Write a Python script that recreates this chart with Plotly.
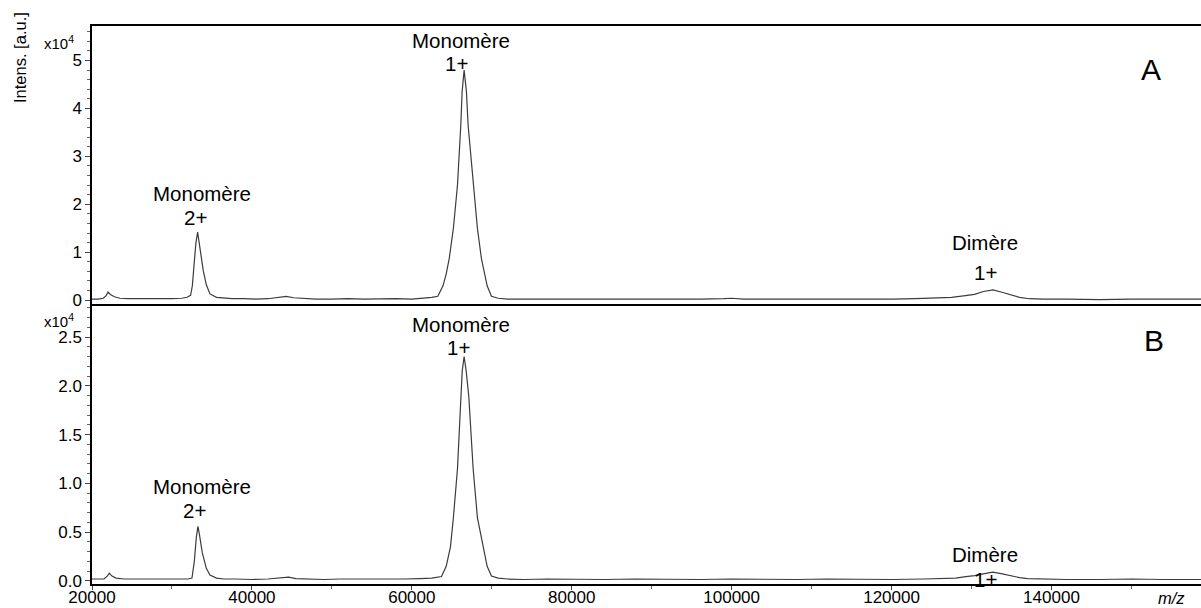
import plotly.graph_objects as go

# ---- Data (intensity in units of 1e4 a.u.) ----
mz_A = [20000, 20800, 21400, 21800, 22000, 22300, 22800, 23500, 24500, 25500, 27000, 28500,
        30000, 31200, 31900, 32330, 32550, 32750, 33000, 33210, 33450, 33790, 33920, 34300,
        34750, 35580, 36500, 37500, 39000, 40500, 42000, 43300, 44300, 45200, 46500, 48000,
        50000, 52000, 54000, 56000, 58000, 60000, 61500, 62500, 63250, 63900, 64300, 64670,
        65200, 65710, 66125, 66290, 66540, 66830, 67040, 67670, 68200, 68710, 69420, 69960,
        70800, 72000, 74000, 77000, 80000, 84000, 88000, 92000, 96000, 99000, 100000, 101500,
        104000, 108000, 112000, 116000, 120000, 123000, 125580, 127500, 129000, 130375, 131500,
        132670, 133700, 134750, 136000, 137250, 139000, 142000, 146000, 150000, 154000, 158700]
int_A = [0.02, 0.02, 0.04, 0.10, 0.17, 0.12, 0.07, 0.04, 0.03, 0.03, 0.02, 0.03,
         0.03, 0.04, 0.06, 0.10, 0.30, 0.71, 1.20, 1.42, 1.15, 0.71, 0.61, 0.32,
         0.13, 0.06, 0.04, 0.03, 0.03, 0.02, 0.03, 0.05, 0.08, 0.05, 0.03, 0.02,
         0.02, 0.03, 0.02, 0.03, 0.03, 0.02, 0.04, 0.06, 0.08, 0.30, 0.55, 0.86,
         1.50, 2.40, 3.65, 4.35, 4.80, 4.35, 3.65, 2.40, 1.50, 0.86, 0.30, 0.08,
         0.04, 0.02, 0.02, 0.02, 0.01, 0.02, 0.02, 0.01, 0.02, 0.03, 0.04, 0.02,
         0.02, 0.01, 0.02, 0.02, 0.02, 0.03, 0.05, 0.06, 0.09, 0.12, 0.18,
         0.215, 0.17, 0.12, 0.06, 0.03, 0.02, 0.02, 0.01, 0.02, 0.02, 0.02]

mz_B = [20000, 20800, 21500, 21900, 22170, 22500, 23000, 24000, 25500, 27000, 28500, 30000,
        31200, 32000, 32500, 32800, 33050, 33250, 33450, 33790, 34300, 34750, 35580, 36500,
        38000, 40000, 42000, 43500, 44580, 45500, 47000, 49000, 51000, 53000, 55000, 57000,
        59000, 61000, 62500, 63710, 64300, 64830, 65200, 65710, 66080, 66300, 66540, 66800,
        67125, 67670, 68200, 68920, 69420, 69960, 70800, 72000, 74000, 77000, 80000, 84000,
        88000, 92000, 96000, 100000, 104000, 108000, 112000, 116000, 120000, 124000, 126500,
        128000, 129300, 130400, 131600, 132670, 133700, 134750, 136000, 137000, 139000, 142000,
        146000, 150000, 154000, 158700]
int_B = [0.02, 0.02, 0.02, 0.05, 0.08, 0.05, 0.03, 0.02, 0.02, 0.015, 0.02, 0.02,
         0.02, 0.02, 0.03, 0.20, 0.45, 0.56, 0.47, 0.29, 0.13, 0.06, 0.03, 0.02,
         0.02, 0.015, 0.02, 0.03, 0.04, 0.025, 0.02, 0.015, 0.02, 0.02, 0.015, 0.02,
         0.02, 0.025, 0.03, 0.045, 0.15, 0.35, 0.65, 1.15, 1.89, 2.15, 2.30, 2.15,
         1.89, 1.15, 0.65, 0.35, 0.15, 0.05, 0.03, 0.02, 0.015, 0.02, 0.015, 0.015,
         0.02, 0.015, 0.015, 0.02, 0.015, 0.015, 0.02, 0.015, 0.015, 0.02, 0.025,
         0.03, 0.045, 0.055, 0.075, 0.09, 0.075, 0.055, 0.035, 0.025, 0.02, 0.015,
         0.015, 0.02, 0.015, 0.015]

yticks_A = [0, 1, 2, 3, 4, 5]
yticks_B = [0.0, 0.5, 1.0, 1.5, 2.0, 2.5]
xticks = [20000, 40000, 60000, 80000, 100000, 120000, 140000]

# (line 1, line 2, apex m/z, apex intensity)
peak_labels_A = [("Monomère", "2+", 33210, 1.42), ("Monomère", "1+", 66540, 4.80), ("Dimère", "1+", 132670, 0.215)]
peak_labels_B = [("Monomère", "2+", 33250, 0.56), ("Monomère", "1+", 66540, 2.30), ("Dimère", "1+", 132670, 0.09)]

FONT = "Liberation Sans, Arial, sans-serif"
LINE = "#3c3c3c"

fig = go.Figure()
fig.add_trace(go.Scatter(x=mz_A, y=int_A, mode="lines", line=dict(color=LINE, width=1.2),
                         xaxis="x", yaxis="y", showlegend=False, hoverinfo="skip"))
fig.add_trace(go.Scatter(x=mz_B, y=int_B, mode="lines", line=dict(color=LINE, width=1.2),
                         xaxis="x2", yaxis="y2", showlegend=False, hoverinfo="skip"))

W, H = 1201, 608
L, R, T, B = 92, 0, 26, 24
xr = [20000, 158700]
common_y = dict(showline=True, linecolor="black", linewidth=1.5, ticks="outside", ticklen=5,
                tickcolor="#444", showgrid=False, zeroline=False, automargin=False,
                tickfont=dict(family=FONT, size=17, color="black"))
fig.update_layout(
    template="none",
    width=W, height=H,
    margin=dict(l=L, r=R, t=T, b=B, pad=0, autoexpand=False),
    plot_bgcolor="white", paper_bgcolor="white",
    xaxis=dict(domain=[0, 1], range=xr, anchor="y", matches="x2", showticklabels=False,
               showline=True, mirror=True, linecolor="black", linewidth=1.5, ticks="",
               showgrid=False, zeroline=False, automargin=False),
    yaxis=dict(domain=[0.5018, 1], range=[-0.08, 5.72], anchor="x", tickvals=yticks_A,
               ticktext=[str(v) for v in yticks_A],
               minor=dict(ticks="outside", ticklen=3, dtick=0.2, tick0=0, tickcolor="#666"), **common_y),
    xaxis2=dict(domain=[0, 1], range=xr, anchor="y2", showline=True, linecolor="black",
                linewidth=1.5, ticks="outside", ticklen=4, tickcolor="#444", tickvals=xticks,
                ticktext=[str(v) for v in xticks], showgrid=False, zeroline=False, automargin=False,
                ticklabelstandoff=-7,
                minor=dict(ticks="outside", ticklen=3, dtick=10000, tick0=20000, tickcolor="#666"),
                tickfont=dict(family=FONT, size=17, color="black")),
    yaxis2=dict(domain=[0, 0.5], range=[-0.031, 2.828], anchor="x2", tickvals=yticks_B,
                ticktext=["%.1f" % v for v in yticks_B],
                minor=dict(ticks="outside", ticklen=3, dtick=0.1, tick0=0, tickcolor="#666"), **common_y),
)

ann = []
def txt(text, x, y, xref, yref, size=20.5, **kw):
    d = dict(text=text, x=x, y=y, xref=xref, yref=yref, showarrow=False,
             xanchor="center", yanchor="middle",
             font=dict(family=FONT, size=size, color="black"))
    d.update(kw)
    ann.append(d)

# label offsets from the apex in pixels: ((dx1, dy1) line 1, (dx2, dy2) line 2)
offA = [((4, 39), (-2, 15)), ((-3, 30), (-8, 7)), ((-8, 47), (-7, 17))]
offB = [((4, 40), (-3, 16)), ((-3, 32), (-6, 9)), ((-8, 18), (-7, -7))]
for labels, offs, xa, ya in [(peak_labels_A, offA, "x", "y"), (peak_labels_B, offB, "x2", "y2")]:
    for (l1, l2, xm, ym), ((dx1, dy1), (dx2, dy2)) in zip(labels, offs):
        txt(l1, xm, ym, xa, ya, xshift=dx1, yshift=dy1)
        txt(l2, xm, ym, xa, ya, xshift=dx2, yshift=dy2)

pw, ph = W - L - R, H - T - B
def px(x, y):
    return (x - L) / pw, 1 - (y - T) / ph

for text, (x, y), size, extra in [
    ("A", (1151, 70), 30, {}),
    ("B", (1154, 340), 30, {}),
    ("x10<sup>4</sup>", (59, 42), 15, {}),
    ("x10<sup>4</sup>", (59, 320), 15, {}),
    ("Intens. [a.u.]", (20, 58), 16.5, {"textangle": -90}),
    ("<i>m/z</i>", (1171, 598), 16.5, {}),
]:
    xp, yp = px(x, y)
    txt(text, xp, yp, "paper", "paper", size=size, **extra)

fig.update_layout(annotations=ann)
fig.write_html("out.html", config={"displayModeBar": False},
               post_script="document.body.style.margin='0';document.body.style.padding='0';"
                           "document.body.style.overflow='hidden';")
